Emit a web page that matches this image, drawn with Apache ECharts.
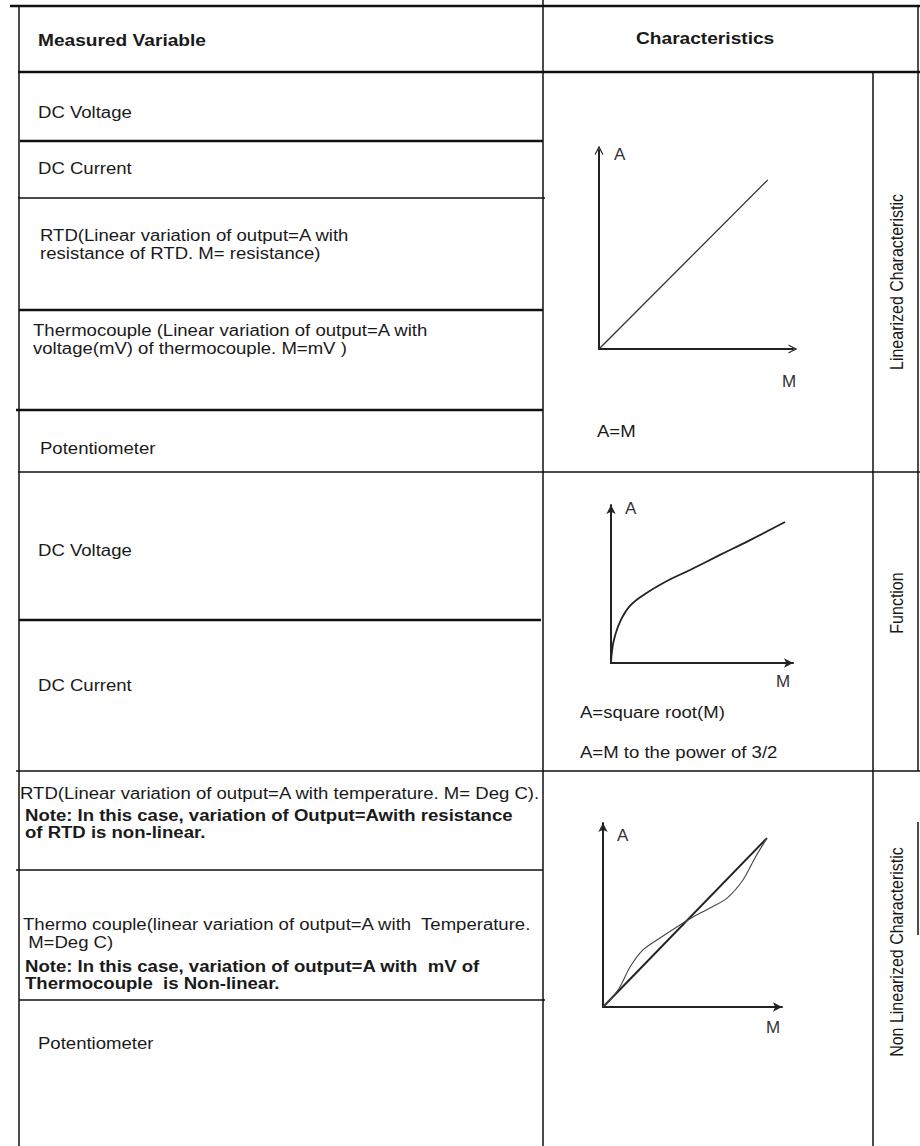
<!DOCTYPE html>
<html><head><meta charset="utf-8">
<script src="https://cdn.jsdelivr.net/npm/echarts@6/dist/echarts.min.js"></script>
<style>html,body{margin:0;padding:0;background:#fff}#c{width:920px;height:1146px}</style>
</head><body><div id="c"></div>
<script>
// ---------- DATA ----------
const headers = ['Measured Variable', 'Characteristics'];
const linearVariables = [
  'DC Voltage',
  'DC Current',
  'RTD(Linear variation of output=A with\nresistance of RTD. M= resistance)',
  'Thermocouple (Linear variation of output=A with\nvoltage(mV) of thermocouple. M=mV )',
  'Potentiometer'
];
const functionVariables = ['DC Voltage', 'DC Current'];
const nonLinearVariables = [
  'RTD(Linear variation of output=A with temperature. M= Deg C).',
  'Thermo couple(linear variation of output=A with  Temperature.\n M=Deg C)',
  'Potentiometer'
];
const nonLinearNotes = [
  'Note: In this case, variation of Output=Awith resistance\nof RTD is non-linear.',
  'Note: In this case, variation of output=A with  mV of\nThermocouple  is Non-linear.'
];
const characteristicNames = ['Linearized Characteristic', 'Function', 'Non Linearized Characteristic'];
const formulas = ['A=M', 'A=square root(M)', 'A=M to the power of 3/2'];
const axisNames = { y: 'A', x: 'M' };

// chart 1: linear A = M
const linearM = [0, 8.7];
const linearA = [0, 8.5];
// chart 2: square-root-like curve
const functionM = [0, 0.05, 0.16, 0.49, 1.04, 1.87, 2.97, 4.34, 5.99, 7.64, 9.56];
const functionA = [0, 0.70, 1.46, 2.59, 3.61, 4.37, 5.13, 5.89, 6.84, 7.78, 8.92];
// chart 3: straight reference line and non-linear wavy line
const nonLinStraightM = [0, 9.16];
const nonLinStraightA = [0, 9.18];
const nonLinWavyM = [0, 0.84, 1.51, 2.23, 3.18, 4.30, 5.03, 5.98, 6.93, 7.82, 8.49, 9.16];
const nonLinWavyA = [0, 0.92, 2.17, 3.10, 3.75, 4.46, 4.89, 5.38, 5.92, 6.90, 8.10, 9.18];

// ---------- LAYOUT ----------
const FONT = '"Liberation Sans", Arial, Helvetica, sans-serif';
const SX = 1.16;
const INK = '#1a1a1a';
function txt(s, x, y, o = {}) {
  return {
    type: 'text', x, y,
    scaleX: o.sx != null ? o.sx : SX, scaleY: o.sy != null ? o.sy : 1,
    rotation: o.rot || 0,
    style: {
      text: s, x: 0, y: 0, fill: INK,
      fontFamily: FONT, fontSize: o.size || 16, fontWeight: o.bold ? 'bold' : 'normal',
      align: o.align || 'left', verticalAlign: o.va || 'middle', lineHeight: o.lh || 21
    }
  };
}
function ln(x1, y1, x2, y2, w) {
  return { type: 'line', shape: { x1, y1, x2, y2 }, style: { stroke: '#111', lineWidth: w || 1.5 } };
}
const zip = (a, b) => a.map((v, i) => [v, b[i]]);

const graphics = [
  // frame
  ln(10, 6, 920, 6, 2.5),
  ln(18, 72, 920, 72, 2.5),
  ln(19, 6, 19, 1146, 1.5),
  ln(543, 0, 543, 1146, 1.5),
  ln(873, 72, 873, 1146, 1.5),
  ln(918, 6, 918, 771, 1.5),
  ln(918, 822, 918, 935, 1.5),
  // block 1
  ln(20, 141, 543, 141, 2.5),
  ln(18, 198, 545, 198, 1.5),
  ln(19, 310, 543, 310, 2.5),
  ln(16, 410, 543, 410, 2.5),
  ln(18, 472, 920, 472, 1.5),
  // block 2
  ln(19, 620, 541, 620, 2.5),
  ln(16, 771, 920, 771, 1.5),
  // block 3
  ln(16, 870, 543, 870, 1.5),
  ln(19, 1000, 545, 1000, 1.5),
  // headers
  txt(headers[0], 38, 40, { bold: true, size: 16.5 }),
  txt(headers[1], 636, 38, { bold: true, size: 16.5 }),
  // block 1 texts
  txt(linearVariables[0], 38, 112),
  txt(linearVariables[1], 38, 168),
  txt(linearVariables[2], 40, 244, { lh: 18 }),
  txt(linearVariables[3], 33, 339, { lh: 18 }),
  txt(linearVariables[4], 40, 448),
  txt(formulas[0], 597, 431),
  // block 2 texts
  txt(functionVariables[0], 38, 550),
  txt(functionVariables[1], 38, 685),
  txt(formulas[1], 580, 712),
  txt(formulas[2], 580, 752),
  // block 3 texts
  txt(nonLinearVariables[0], 20, 793),
  txt(nonLinearNotes[0], 25, 824, { bold: true, lh: 17 }),
  txt(nonLinearVariables[1], 23, 933, { lh: 18 }),
  txt(nonLinearNotes[1], 25, 975, { bold: true, lh: 17 }),
  txt(nonLinearVariables[2], 38, 1043),
  // rotated characteristic labels
  txt(characteristicNames[0], 897, 282, { rot: Math.PI / 2, align: 'center', sx: 1, sy: SX }),
  txt(characteristicNames[1], 897, 603, { rot: Math.PI / 2, align: 'center', sx: 1, sy: SX }),
  txt(characteristicNames[2], 897, 952, { rot: Math.PI / 2, align: 'center', sx: 1, sy: SX })
];

const grids = [
  { left: 599, top: 150, width: 194, height: 199 },
  { left: 611, top: 505, width: 182, height: 158 },
  { left: 603, top: 823, width: 179, height: 184 }
];
const chevron = 'path://M0,10 L5,0 L10,10 L8.6,10 L5,3 L1.4,10 Z';
const axisCfg = [
  { sym: chevron, size: [11, 9], xName: { gap: -4, pad: [24, 0, 0, 0] }, yName: { gap: -4, pad: [0, 0, 0, 15] } },
  { sym: 'arrow', size: [7, 9], xName: { gap: -10, pad: [10, 0, 0, 0] }, yName: { gap: -3, pad: [0, 0, 0, 14] } },
  { sym: 'arrow', size: [7, 9], xName: { gap: -9, pad: [12, 0, 0, 0] }, yName: { gap: -12, pad: [0, 0, 0, 14] } }
];
const xAxes = axisCfg.map((c, i) => ({
  gridIndex: i, type: 'value', min: 0, max: 10,
  axisLine: { show: true, onZero: false, symbol: ['none', c.sym], symbolSize: c.size, lineStyle: { color: '#222', width: 2 } },
  axisTick: { show: false }, axisLabel: { show: false }, splitLine: { show: false },
  name: axisNames.x, nameLocation: 'end', nameGap: c.xName.gap,
  nameTextStyle: { color: '#333', fontFamily: FONT, fontSize: 17, align: 'center', verticalAlign: 'top', padding: c.xName.pad }
}));
const yAxes = axisCfg.map((c, i) => ({
  gridIndex: i, type: 'value', min: 0, max: 10,
  axisLine: { show: true, onZero: false, symbol: ['none', c.sym], symbolSize: c.size, lineStyle: { color: '#222', width: 2 } },
  axisTick: { show: false }, axisLabel: { show: false }, splitLine: { show: false },
  name: axisNames.y, nameLocation: 'end', nameGap: c.yName.gap,
  nameTextStyle: { color: '#333', fontFamily: FONT, fontSize: 17, align: 'left', verticalAlign: 'middle', padding: c.yName.pad }
}));

const series = [
  { type: 'line', xAxisIndex: 0, yAxisIndex: 0, data: zip(linearM, linearA), showSymbol: false, lineStyle: { color: '#333', width: 1.3 } },
  { type: 'line', xAxisIndex: 1, yAxisIndex: 1, data: zip(functionM, functionA), showSymbol: false, smooth: 0.4, lineStyle: { color: '#222', width: 1.8 } },
  { type: 'line', xAxisIndex: 2, yAxisIndex: 2, data: zip(nonLinStraightM, nonLinStraightA), showSymbol: false, lineStyle: { color: '#222', width: 2 } },
  { type: 'line', xAxisIndex: 2, yAxisIndex: 2, data: zip(nonLinWavyM, nonLinWavyA), showSymbol: false, smooth: 0.3, lineStyle: { color: '#444', width: 1.1 } }
];

const chart = echarts.init(document.getElementById('c'), null, { renderer: 'svg' });
chart.setOption({
  animation: false,
  backgroundColor: '#fff',
  grid: grids,
  xAxis: xAxes,
  yAxis: yAxes,
  series,
  graphic: graphics
});
</script></body></html>
